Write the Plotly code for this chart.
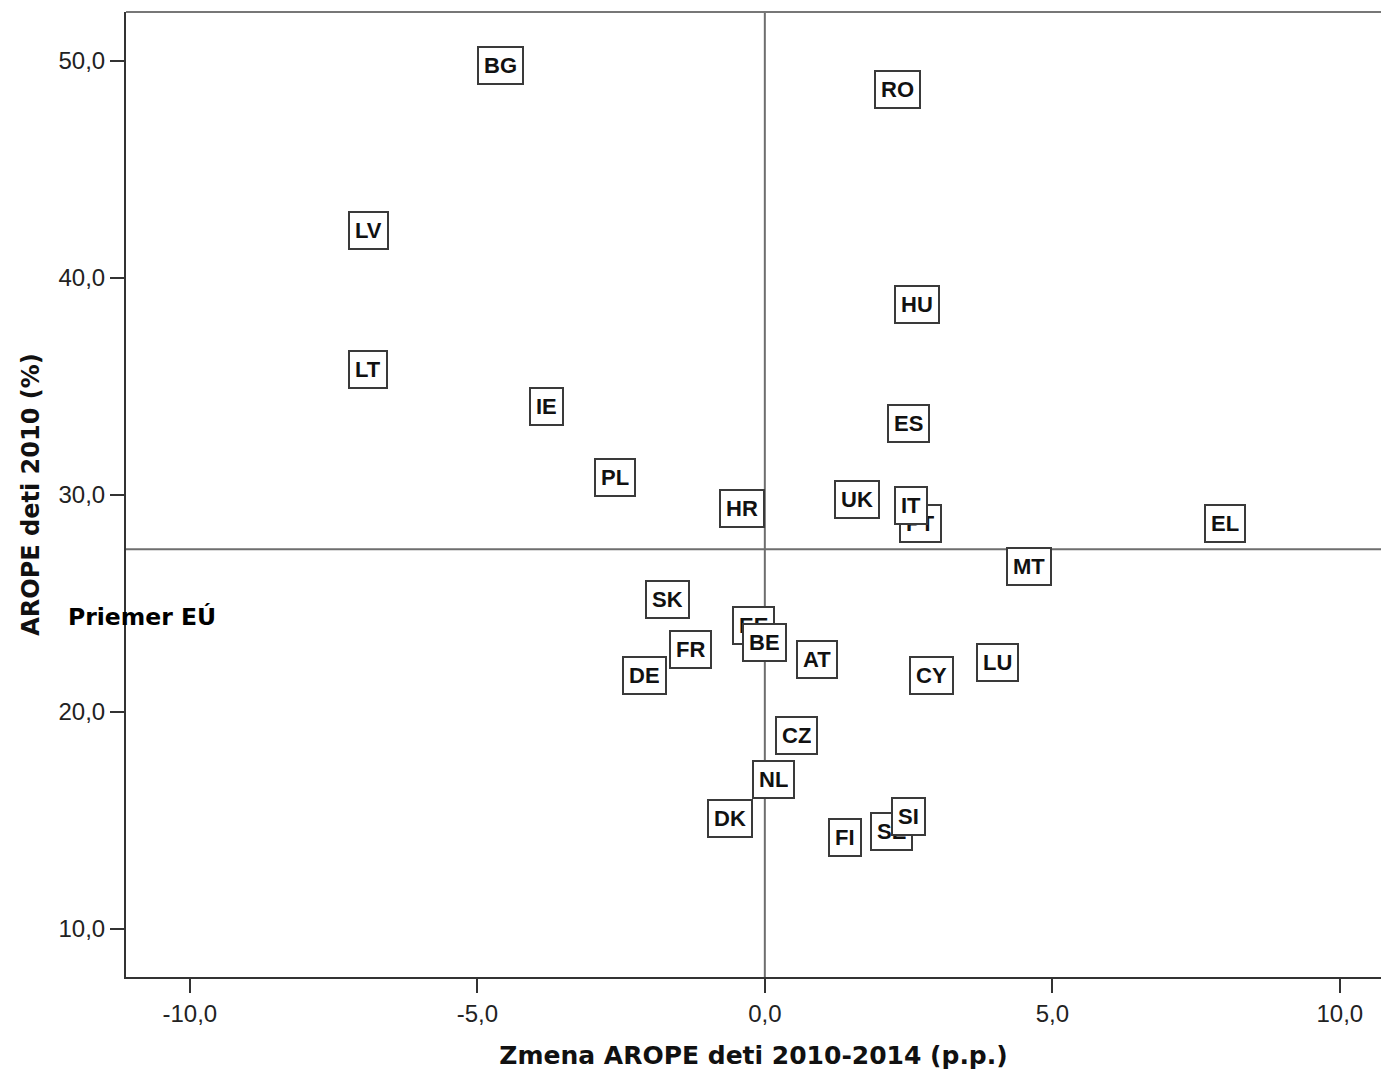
import plotly.graph_objects as go

# Data
countries = ["BG", "RO", "LV", "HU", "LT", "IE", "ES", "PL", "HR", "UK",
             "PT", "IT", "EL", "MT", "SK", "EE", "BE", "FR", "AT", "LU",
             "CY", "DE", "CZ", "NL", "DK", "SE", "SI", "FI"]
change_2010_2014 = [-4.6, 2.3, -6.9, 2.65, -6.9, -3.8, 2.5, -2.6, -0.4, 1.6,
                    2.7, 2.55, 8.0, 4.6, -1.7, -0.2, 0.0, -1.3, 0.9, 4.05,
                    2.9, -2.1, 0.55, 0.15, -0.6, 2.2, 2.5, 1.4]
arope_2010 = [49.8, 48.7, 42.2, 38.8, 35.8, 34.1, 33.3, 30.8, 29.4, 29.8,
              28.7, 29.5, 28.7, 26.7, 25.2, 24.0, 23.2, 22.9, 22.4, 22.3,
              21.7, 21.7, 18.9, 16.9, 15.1, 14.5, 15.2, 14.2]
eu_avg = 27.5
x_ticks = [-10, -5, 0, 5, 10]
x_tick_labels = ["-10,0", "-5,0", "0,0", "5,0", "10,0"]
y_ticks = [10, 20, 30, 40, 50]
y_tick_labels = ["10,0", "20,0", "30,0", "40,0", "50,0"]

fig = go.Figure()
fig.add_trace(go.Scatter(
    x=change_2010_2014, y=arope_2010, mode="markers", text=countries,
    marker=dict(size=1, color="rgba(0,0,0,0)"), showlegend=False,
    hovertemplate="%{text}: %{x:.1f}, %{y:.1f}<extra></extra>"))

annotations = []
for c, xv, yv in zip(countries, change_2010_2014, arope_2010):
    annotations.append(dict(
        x=xv, y=yv, xref="x", yref="y", text=c, showarrow=False,
        font=dict(family="Liberation Sans, Arial", size=22, color="#111111", weight="bold"),
        bgcolor="white", bordercolor="#3a3a3a", borderwidth=2, borderpad=5,
        height=25, align="center"))

annotations.append(dict(
    x=-0.0478, y=0.373, xref="paper", yref="paper", xanchor="left", yanchor="middle",
    text="Priemer EÚ", showarrow=False,
    font=dict(family="DejaVu Sans", size=23.5, color="black", weight="bold")))

shapes = [
    dict(type="line", xref="paper", yref="y", x0=0, x1=1, y0=eu_avg, y1=eu_avg,
         line=dict(color="#6e6e6e", width=2), layer="below"),
    dict(type="line", xref="x", yref="paper", x0=0, x1=0, y0=0, y1=1,
         line=dict(color="#6e6e6e", width=2), layer="below"),
    dict(type="line", xref="paper", yref="paper", x0=0, x1=1, y0=1, y1=1,
         line=dict(color="#777777", width=2), layer="below"),
]

fig.update_layout(
    width=1373, height=1062,
    margin=dict(l=118, r=0, t=4, b=93),
    paper_bgcolor="white", plot_bgcolor="white",
    annotations=annotations, shapes=shapes,
    font=dict(family="Liberation Sans, Arial", color="#222222"),
)
fig.update_xaxes(
    range=[-11.11, 10.716], tickvals=x_ticks, ticktext=x_tick_labels,
    showgrid=False, zeroline=False, showline=True, linecolor="#333333", linewidth=2,
    ticks="outside", ticklen=14, tickwidth=2, tickcolor="#333333",
    tickfont=dict(size=24, color="#222222"),
    title=dict(text="Zmena AROPE deti 2010-2014 (p.p.)", standoff=26,
               font=dict(family="DejaVu Sans", size=25, color="#111111", weight="bold")))
fig.update_yaxes(
    range=[7.79, 52.26], tickvals=y_ticks, ticktext=y_tick_labels,
    showgrid=False, zeroline=False, showline=True, linecolor="#333333", linewidth=2,
    ticks="outside", ticklen=14, tickwidth=2, tickcolor="#333333",
    tickfont=dict(size=24, color="#222222"),
    title=dict(text="AROPE deti 2010 (%)", standoff=12,
               font=dict(family="DejaVu Sans", size=24, color="#111111", weight="bold")))

fig.write_html("out.html")
